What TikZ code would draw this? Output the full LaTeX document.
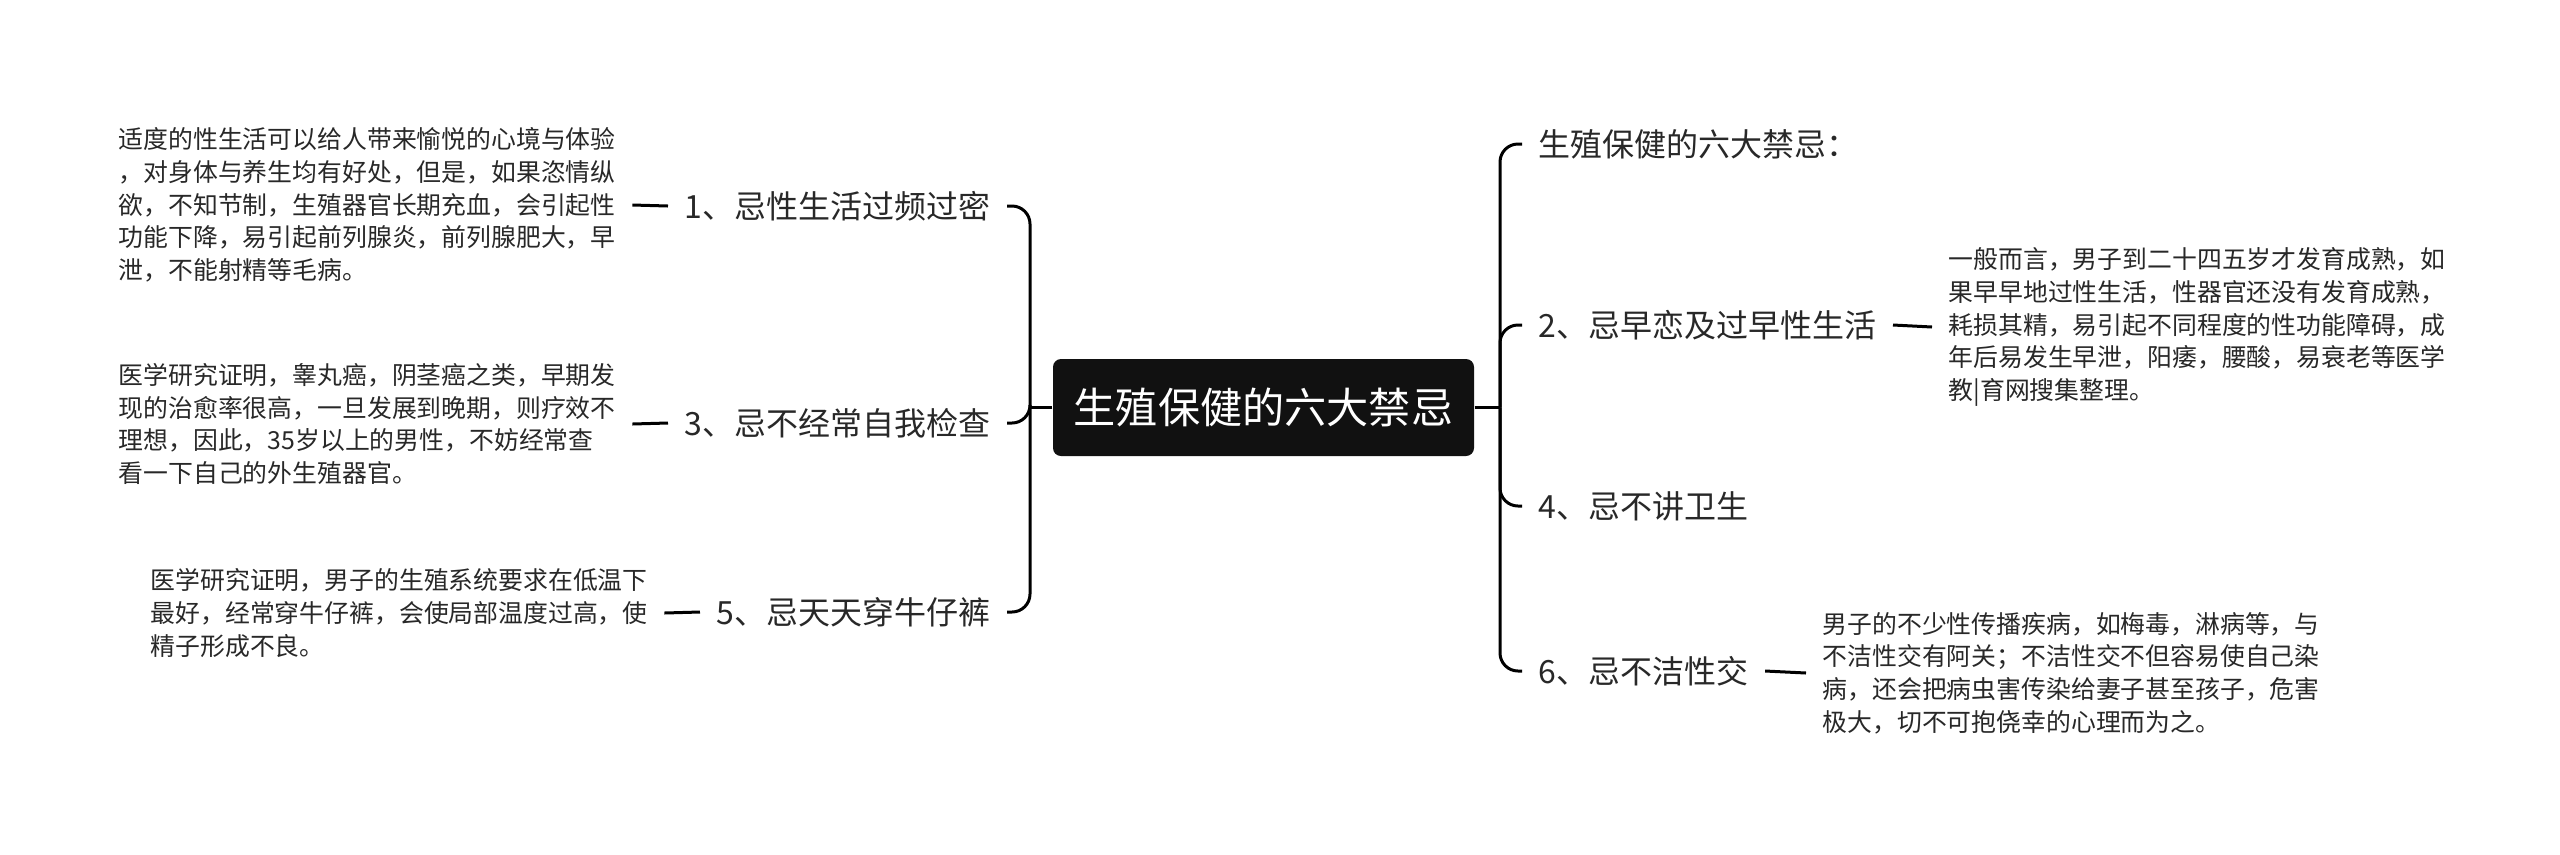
\documentclass[tikz,border=0pt]{standalone}
\usepackage{fontspec}
\setmainfont{Noto Sans CJK SC}
\usepackage{tikz}
\usepackage{xcolor}
\definecolor{rootblack}{RGB}{17,17,17}
\definecolor{inkgray}{RGB}{40,40,40}

\begin{document}
\begin{tikzpicture}[
    root/.style={rectangle, fill=rootblack, text=white, rounded corners=0.08cm,
                 minimum width=4.21cm, minimum height=0.97cm, inner sep=0pt,
                 font=\fontsize{12}{14}\selectfont},
    topic/.style={inner xsep=0.16cm, inner ysep=0.05cm, text=inkgray,
                  font=\fontsize{9.1}{10.8}\selectfont},
    detail/.style={inner xsep=0.16cm, inner ysep=0.05cm, text=inkgray, align=left,
                   font=\fontsize{7.07}{9.3}\selectfont},
    link/.style={line width=0.03cm, black, rounded corners=0.18cm}
]
    \useasboundingbox (0,0) rectangle (25.6,-8.54);

    \node[root] (root) at (12.635,-4.075) {生殖保健的六大禁忌};

    % right side
    \coordinate (rb) at (15.0,-4.075);
    \node[topic, anchor=west] (c0) at (15.22,-1.44) {生殖保健的六大禁忌：};
    \node[topic, anchor=west] (c2) at (15.22,-3.25) {2、忌早恋及过早性生活};
    \node[topic, anchor=west] (c4) at (15.22,-5.06) {4、忌不讲卫生};
    \node[topic, anchor=west] (c6) at (15.22,-6.71) {6、忌不洁性交};
    \node[detail, anchor=west] (d2) at (19.32,-3.27) {一般而言，男子到二十四五岁才发育成熟，如\\果早早地过性生活，性器官还没有发育成熟，\\耗损其精，易引起不同程度的性功能障碍，成\\年后易发生早泄，阳痿，腰酸，易衰老等医学\\教|育网搜集整理。};
    \node[detail, anchor=west] (d6) at (18.06,-6.73) {男子的不少性传播疾病，如梅毒，淋病等，与\\不洁性交有阿关；不洁性交不但容易使自己染\\病，还会把病虫害传染给妻子甚至孩子，危害\\极大，切不可抱侥幸的心理而为之。};

    % left side
    \coordinate (lb) at (10.30,-4.075);
    \node[topic, anchor=east] (l1) at (10.07,-2.06) {1、忌性生活过频过密};
    \node[topic, anchor=east] (l3) at (10.07,-4.23) {3、忌不经常自我检查};
    \node[topic, anchor=east] (l5) at (10.07,-6.12) {5、忌天天穿牛仔裤};
    \node[detail, anchor=west] (d1) at (1.02,-2.05) {适度的性生活可以给人带来愉悦的心境与体验\\，对身体与养生均有好处，但是，如果恣情纵\\欲，不知节制，生殖器官长期充血，会引起性\\功能下降，易引起前列腺炎，前列腺肥大，早\\泄，不能射精等毛病。};
    \node[detail, anchor=west] (d3) at (1.02,-4.24) {医学研究证明，睾丸癌，阴茎癌之类，早期发\\现的治愈率很高，一旦发展到晚期，则疗效不\\理想，因此，35岁以上的男性，不妨经常查\\看一下自己的外生殖器官。};
    \node[detail, anchor=west] (d5) at (1.34,-6.13) {医学研究证明，男子的生殖系统要求在低温下\\最好，经常穿牛仔裤，会使局部温度过高，使\\精子形成不良。};

    \draw[link] (root.east) -- (rb);
    \draw[link] (rb) |- (c0.west);
    \draw[link] (rb) |- (c2.west);
    \draw[link] (rb) |- (c4.west);
    \draw[link] (rb) |- (c6.west);
    \draw[link] (c2.east) -- (d2.west);
    \draw[link] (c6.east) -- (d6.west);

    \draw[link] (root.west) -- (lb);
    \draw[link] (lb) |- (l1.east);
    \draw[link] (lb) |- (l3.east);
    \draw[link] (lb) |- (l5.east);
    \draw[link] (l1.west) -- (d1.east);
    \draw[link] (l3.west) -- (d3.east);
    \draw[link] (l5.west) -- (d5.east);
\end{tikzpicture}
\end{document}
